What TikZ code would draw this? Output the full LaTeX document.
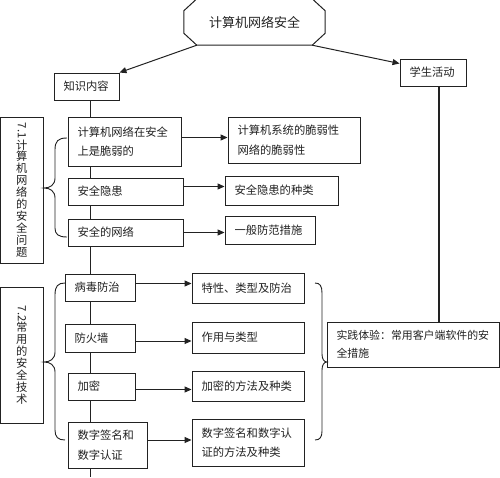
\documentclass[tikz,border=0pt]{standalone}
\usepackage{fontspec}
\setmainfont{Noto Sans CJK SC}
\usepackage{graphicx}
\usetikzlibrary{arrows.meta}
\definecolor{ink}{HTML}{222222}
\tikzset{
  box/.style={draw=ink, line width=0.9pt, fill=white, rectangle, inner xsep=9.5pt, inner ysep=0pt,
    align=left, font=\fontsize{11.3}{19.5}\selectfont, text=ink},
  vbox/.style={draw=ink, line width=0.9pt, fill=white, inner sep=0pt, align=center,
    font=\fontsize{11.3}{11.9}\selectfont, text=ink},
  arr/.style={draw=ink, line width=1pt, -{Triangle[length=7pt,width=6pt]}},
  ln/.style={draw=ink, line width=1pt},
  bracepath/.style={draw=ink, line width=0.9pt},
}
\newcommand\mybox[7][]{%
  \pgfmathsetmacro\bw{#5-#3}\pgfmathsetmacro\bh{#6-#4}\pgfmathsetmacro\tw{#5-#3-19}%
  \pgfmathsetmacro\cx{(#3+#5)/2}\pgfmathsetmacro\cy{(#4+#6)/2}%
  \node[box, minimum width=\bw pt, minimum height=\bh pt, text width=\tw pt, #1] (#2) at (\cx,\cy) {#7};}
\begin{document}
\begin{tikzpicture}[x=1pt, y=-1pt]
\useasboundingbox (0,0) rectangle (500,477);
% title
\node[font=\fontsize{13}{15}\selectfont, text=ink, minimum width=141pt, minimum height=46pt, inner sep=0pt] (top) at (254.5,22) {计算机网络安全};
\draw[ln] ([yshift=-12pt]top.north west) -- ([xshift=13pt]top.north west) -- ([xshift=-13pt]top.north east)
  -- ([yshift=-12pt]top.north east) -- ([yshift=12pt]top.south east) -- ([xshift=-13pt]top.south east)
  -- ([xshift=13pt]top.south west) -- ([yshift=12pt]top.south west) -- cycle;
\mybox{zs}{54}{73}{119}{100}{知识内容}
\mybox{xs}{400}{59}{466}{86}{学生活动}
\coordinate (vb) at (90,477);
\draw[ln] ([xshift=3.5pt]zs.south) -- (vb);
% section 7.1
\node[vbox, minimum width=42.3pt, minimum height=146pt] (L1) at (21.85,190)
  {\rotatebox{-90}{7.1}\\计\\算\\机\\网\\络\\的\\安\\全\\问\\题};
\mybox{A1}{68}{117}{181}{166}{计算机网络在安全\\上是脆弱的}
\mybox{A2}{68}{178}{183}{205}{安全隐患}
\mybox{A3}{68}{219}{183}{246}{安全的网络}
\mybox{B1}{228}{117}{360}{163}{计算机系统的脆弱性\\网络的脆弱性}
\mybox{B2}{225}{176}{338}{205}{安全隐患的种类}
\mybox{B3}{225}{216}{315}{244}{一般防范措施}
% section 7.2
\node[vbox, minimum width=42.3pt, minimum height=136pt] (L2) at (21.85,355)
  {\rotatebox{-90}{7.2}\\常\\用\\的\\安\\全\\技\\术};
\mybox{C1}{65}{274}{135}{301}{病毒防治}
\mybox{C2}{65}{324}{135}{352}{防火墙}
\mybox{C3}{68}{373}{135}{400}{加密}
\mybox{C4}{68}{422}{147}{468}{数字签名和\\数字认证}
\mybox{D1}{192}{273}{304}{303}{特性、类型及防治}
\mybox{D2}{192}{322}{304}{353}{作用与类型}
\mybox{D3}{192}{371}{304}{401}{加密的方法及种类}
\mybox{D4}{192}{419}{304}{466}{数字签名和数字认\\证的方法及种类}
\mybox[font=\fontsize{10.9}{18.5}\selectfont]{E}{327}{322}{499}{367}{实践体验：常用客户端软件的安\\全措施}
% connectors
\draw[arr] ([xshift=13pt]top.south west) -- (zs.north east);
\draw[arr] ([xshift=-13pt]top.south east) -- ([yshift=9pt]xs.west);
\draw[ln, line width=1.3pt] ([xshift=6pt]xs.south) -- ([xshift=6pt]xs.south |- E.north);
\draw[arr] ([yshift=4pt]A1.east) -- ([yshift=4pt]A1.east -| B1.west);
\draw[arr] ([yshift=5pt]A2.east) -- ([yshift=5pt]A2.east -| B2.west);
\draw[arr] (A3.east) -- (A3.east -| B3.west);
\draw[arr] ([yshift=4pt]C1.east) -- ([yshift=4pt]C1.east -| D1.west);
\draw[arr] ([yshift=-3pt]C2.east) -- ([yshift=-3pt]C2.east -| D2.west);
\draw[arr] ([yshift=-3pt]C3.east) -- ([yshift=-3pt]C3.east -| D3.west);
\draw[arr] ([yshift=5pt]C4.east) -- ([yshift=5pt]C4.east -| D4.west);
% braces
\draw[bracepath] (67,138) .. controls (58,138) and (55,141) .. (55,150) -- (55,178)
  .. controls (55,185) and (50,188) .. (44,188) .. controls (50,188) and (55,191) .. (55,198)
  -- (55,228) .. controls (55,234) and (58,237) .. (67,237);
\draw[bracepath] (65,283) .. controls (58,283) and (55,286) .. (55,295) -- (55,352)
  .. controls (55,359) and (50,362) .. (44,362) .. controls (50,362) and (55,365) .. (55,372)
  -- (55,430) .. controls (55,437) and (58,440) .. (65,440);
\draw[bracepath] (315,283) .. controls (320,283) and (322,286) .. (322,293) -- (322,354)
  .. controls (322,359) and (324,362) .. (327,362) .. controls (324,362) and (322,365) .. (322,370)
  -- (322,431) .. controls (322,437) and (320,440) .. (315,440);
\end{tikzpicture}
\end{document}
